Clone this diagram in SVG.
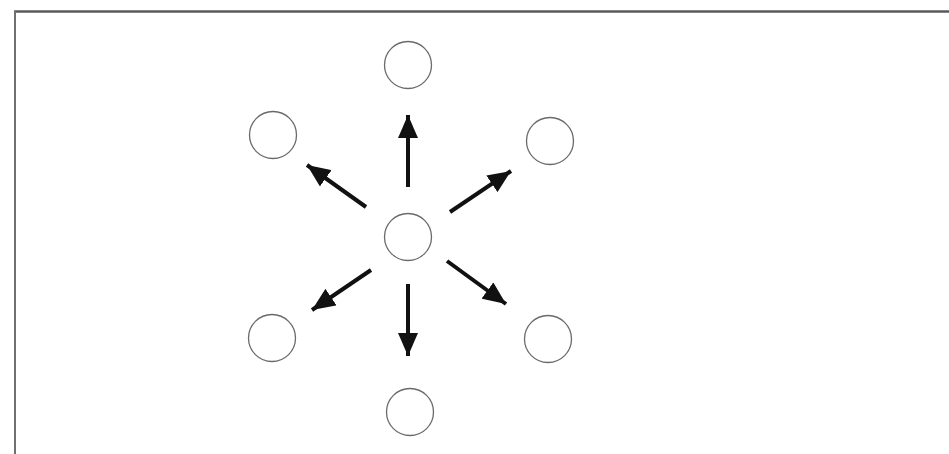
<svg xmlns="http://www.w3.org/2000/svg" width="949" height="454" viewBox="0 0 949 454">
<style>
.node{fill:#fff;stroke:#6a6a6a;stroke-width:1.3}
.edge{stroke:#111;stroke-width:4;fill:none;marker-end:url(#ah)}
</style>
<defs>
<marker id="ah" markerUnits="userSpaceOnUse" markerWidth="24" markerHeight="20" refX="23" refY="10" orient="auto">
<path d="M0,0 L23,10 L0,20 Z" fill="#111"/>
</marker>
</defs>
<rect width="949" height="454" fill="#fff"/>
<g id="frame">
<line x1="14" y1="11.5" x2="949" y2="11.5" stroke="#5a5a5e" stroke-width="2.5"/>
<line x1="15" y1="11" x2="15" y2="454" stroke="#707070" stroke-width="2"/>
</g>
<g id="n-center"><circle class="node" cx="408" cy="237" r="23.5"/></g>
<g id="n-top"><circle class="node" cx="408" cy="65" r="23.5"/></g>
<g id="n-upleft"><circle class="node" cx="273" cy="135" r="23.5"/></g>
<g id="n-upright"><circle class="node" cx="550" cy="141" r="23.5"/></g>
<g id="n-lowleft"><circle class="node" cx="272" cy="338" r="23.5"/></g>
<g id="n-lowright"><circle class="node" cx="548" cy="339" r="23.5"/></g>
<g id="n-bottom"><circle class="node" cx="410" cy="412" r="23.5"/></g>
<g id="connectors">
<line class="edge" x1="408" y1="187" x2="408" y2="115"/>
<line class="edge" x1="366" y1="207" x2="307" y2="165"/>
<line class="edge" x1="450" y1="212" x2="511" y2="171"/>
<line class="edge" x1="371" y1="270" x2="312" y2="310"/>
<line class="edge" x1="408" y1="284" x2="408" y2="356"/>
<line class="edge" x1="447" y1="261" x2="506" y2="304"/>
</g>
</svg>
